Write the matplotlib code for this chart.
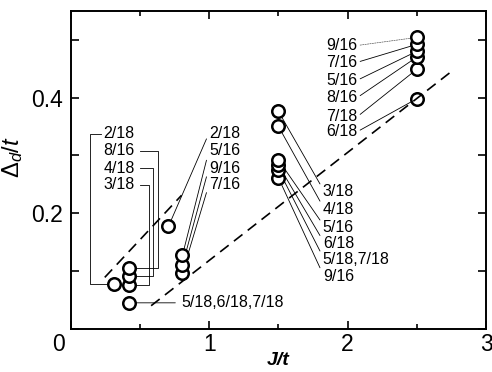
import matplotlib

matplotlib.use("Agg")
import matplotlib.pyplot as plt
from matplotlib.ticker import FuncFormatter, MultipleLocator
from matplotlib.transforms import ScaledTranslation

plt.rcParams["font.family"] = ["Liberation Sans", "DejaVu Sans"]
plt.rcParams["mathtext.fontset"] = "custom"
plt.rcParams["mathtext.rm"] = "Liberation Sans"
plt.rcParams["mathtext.it"] = "Liberation Sans:italic"
plt.rcParams["mathtext.bf"] = "Liberation Sans:bold"

# ---------------------------------------------------------------------------
# Data
# ---------------------------------------------------------------------------
j_left = [0.31, 0.417, 0.417, 0.417, 0.417]
delta_left = [0.078, 0.106, 0.092, 0.075, 0.045]
labels_left = ["2/18", "8/16", "4/18", "3/18", "5/18,6/18,7/18"]

j_mid = [0.705, 0.806, 0.806, 0.806]
delta_mid = [0.177, 0.127, 0.110, 0.097]
labels_mid = ["2/18", "5/16", "9/16", "7/16"]

j_15 = [1.5, 1.5, 1.5, 1.5, 1.5, 1.5]
delta_15 = [0.376, 0.350, 0.292, 0.283, 0.275, 0.261]
labels_15 = ["3/18", "4/18", "5/16", "6/18", "5/18,7/18", "9/16"]

j_25 = [2.5, 2.5, 2.5, 2.5, 2.5, 2.5]
delta_25 = [0.504, 0.492, 0.480, 0.470, 0.449, 0.398]
labels_25 = ["9/16", "7/16", "5/16", "8/16", "7/18", "6/18"]

upper_fit_j = [0.245, 0.80]
upper_fit_delta = [0.089, 0.231]
lower_fit_j = [0.58, 2.76]
lower_fit_delta = [0.040, 0.447]

# label layout (data coords)
left_text_x = 0.237
left_text_y = [0.337, 0.308, 0.278, 0.249]
left_bracket_x = [0.137, 0.633, 0.597, 0.568]
mid_text_x = 1.0
mid_text_y = [0.337, 0.308, 0.278, 0.249]
g15_text_x = 1.82
g15_text_y = [0.237, 0.207, 0.176, 0.148, 0.120, 0.090]
g25_text_x = 2.07
g25_text_y = [0.490, 0.461, 0.430, 0.400, 0.367, 0.341]

LABEL_SIZE = 11.5
LINE_KW = dict(color="black", lw=0.6)

fig = plt.figure(figsize=(4.92, 3.72), dpi=100)
ax = fig.add_axes([0.144, 0.116, 0.844, 0.855])

# markers: white-filled, higher points drawn on top
all_j = j_left + j_mid + j_15 + j_25
all_delta = delta_left + delta_mid + delta_15 + delta_25
order = sorted(range(len(all_j)), key=lambda i: all_delta[i])
ax.scatter(
    [all_j[i] for i in order],
    [all_delta[i] for i in order],
    s=9.0**2,
    facecolor="white",
    edgecolor="black",
    linewidth=1.8,
    zorder=3,
)

for fit_j, fit_delta in ((upper_fit_j, upper_fit_delta), (lower_fit_j, lower_fit_delta)):
    ax.plot(fit_j, fit_delta, color="black", lw=1.2, linestyle=(0, (6.5, 4)), zorder=4)

# left group: bracket leaders
for k in range(4):
    ax.text(left_text_x, left_text_y[k], labels_left[k], ha="left", va="center",
            fontsize=LABEL_SIZE, zorder=2)
    if k == 0:
        start_x = left_text_x - 0.02
    else:
        start_x = 0.497
    ax.plot([start_x, left_bracket_x[k], left_bracket_x[k], j_left[k]],
            [left_text_y[k], left_text_y[k], delta_left[k], delta_left[k]],
            zorder=2, **LINE_KW)
ax.annotate(labels_left[4], xy=(j_left[4], delta_left[4]), xytext=(0.795, delta_left[4]),
            ha="left", va="center", fontsize=LABEL_SIZE, zorder=2,
            arrowprops=dict(arrowstyle="-", shrinkA=2, shrinkB=0, relpos=(0, 0.5), **LINE_KW))

for k, label in enumerate(labels_mid):
    ax.annotate(label, xy=(j_mid[k], delta_mid[k]), xytext=(mid_text_x, mid_text_y[k]),
                ha="left", va="center", fontsize=LABEL_SIZE, zorder=2,
                arrowprops=dict(arrowstyle="-", shrinkA=0, shrinkB=0, relpos=(0, 0.6), **LINE_KW))

for k, label in enumerate(labels_15):
    ax.annotate(label, xy=(j_15[k], delta_15[k]), xytext=(g15_text_x, g15_text_y[k]),
                ha="left", va="center", fontsize=LABEL_SIZE, zorder=2,
                arrowprops=dict(arrowstyle="-", shrinkA=0, shrinkB=0, relpos=(0, 0.7), **LINE_KW))

for k, label in enumerate(labels_25):
    line_kw = dict(color="0.35", lw=0.5, linestyle=(0, (2, 1.5))) if k == 0 else LINE_KW
    ax.annotate(label, xy=(j_25[k], delta_25[k]), xytext=(g25_text_x, g25_text_y[k]),
                ha="right", va="center", fontsize=LABEL_SIZE, zorder=2,
                arrowprops=dict(arrowstyle="-", shrinkA=0, shrinkB=0, relpos=(1, 0.5), **line_kw))

# axes styling
ax.set_xlim(0, 3)
ax.set_ylim(0, 0.55)
ax.xaxis.set_major_locator(MultipleLocator(1))
ax.xaxis.set_minor_locator(MultipleLocator(0.5))
ax.yaxis.set_major_locator(MultipleLocator(0.1))
ax.yaxis.set_major_formatter(
    FuncFormatter(lambda v, _: f"{v:.1f}" if round(v * 10) in (2, 4) else "")
)
ax.tick_params(which="both", direction="in", top=True, right=True, width=1.2,
               labelsize=16.5)
ax.tick_params(which="major", length=6)
ax.tick_params(axis="x", which="minor", length=3.5)
ax.tick_params(axis="x", pad=3)
ax.tick_params(axis="y", pad=6)
for spine in ax.spines.values():
    spine.set_linewidth(1.4)

fig.canvas.draw()
for lbl in ax.get_xticklabels():
    if lbl.get_text() == "0":
        lbl.set_transform(lbl.get_transform() + ScaledTranslation(-12 / 100, 0, fig.dpi_scale_trans))

ax.set_ylabel(r"$\Delta_d/t$", fontsize=17)
ax.yaxis.set_label_coords(-0.111, 0.54)
ax.set_xlabel("J/t", fontsize=14, fontstyle="italic", fontweight="bold")
ax.xaxis.set_label_coords(0.5, -0.098)
ax.xaxis.label.set_va("center")

fig.savefig("out.png", dpi=100)
